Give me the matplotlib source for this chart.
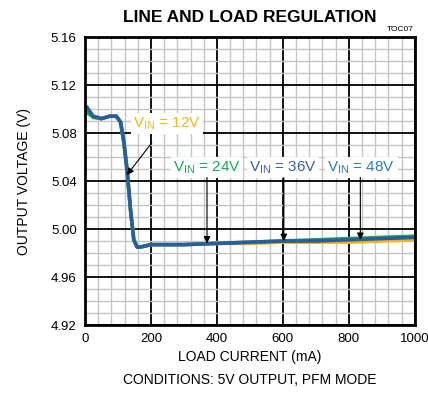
import matplotlib.pyplot as plt
from matplotlib.ticker import MultipleLocator

plt.rcParams["font.family"] = ["Liberation Sans Narrow", "Liberation Sans", "DejaVu Sans"]

# load current (mA)
load_ma = [0, 5, 12, 25, 50, 75, 95, 108, 118, 128, 138, 148, 158, 168, 185, 200, 300, 400, 500, 600, 700, 800, 900, 1000]
vout_12v = [5.097, 5.099, 5.098, 5.094, 5.092, 5.094, 5.094, 5.089, 5.072, 5.048, 5.016, 4.991, 4.985, 4.985, 4.986, 4.987, 4.987, 4.988, 4.988, 4.989, 4.989, 4.989, 4.990, 4.991]
vout_24v = [5.095, 5.097, 5.096, 5.093, 5.092, 5.094, 5.094, 5.089, 5.072, 5.048, 5.016, 4.991, 4.985, 4.985, 4.986, 4.987, 4.987, 4.988, 4.989, 4.990, 4.991, 4.992, 4.993, 4.994]
vout_36v = [5.099, 5.102, 5.099, 5.094, 5.092, 5.094, 5.094, 5.089, 5.072, 5.048, 5.016, 4.991, 4.985, 4.985, 4.986, 4.987, 4.987, 4.988, 4.989, 4.990, 4.990, 4.991, 4.992, 4.993]

labels = ["V$_{\\mathregular{IN}}$ = 12V", "V$_{\\mathregular{IN}}$ = 24V",
          "V$_{\\mathregular{IN}}$ = 36V", "V$_{\\mathregular{IN}}$ = 48V"]
label_colors = ["#F5B514", "#1BA75A", "#3A5FA5", "#2A7DC6"]

fig = plt.figure(figsize=(4.28, 3.98), dpi=100)
ax = fig.add_axes([0.1986, 0.1834, 0.7704, 0.7236])

ax.plot(load_ma, vout_12v, color="#F5B514", lw=2.6, zorder=3)
ax.plot(load_ma, vout_24v, color="#1BA75A", lw=2.6, zorder=4)
ax.plot(load_ma, vout_36v, color="#2A5C9E", lw=2.6, zorder=5)

ax.set_xlim(0, 1000)
ax.set_ylim(4.92, 5.16)
ax.xaxis.set_major_locator(MultipleLocator(200))
ax.xaxis.set_minor_locator(MultipleLocator(40))
ax.yaxis.set_major_locator(MultipleLocator(0.04))
ax.yaxis.set_minor_locator(MultipleLocator(0.01))
ax.grid(which="minor", color="#c4c4c4", lw=1.0, zorder=0)
ax.grid(which="major", color="black", lw=1.3, zorder=1)
ax.tick_params(which="both", length=0, labelsize=9.5, pad=6, colors="black")
ax.set_yticklabels([f"{v:.2f}" for v in ax.get_yticks()])
for s in ax.spines.values():
    s.set_linewidth(2)
    s.set_zorder(6)

ax.set_ylabel("OUTPUT VOLTAGE (V)", fontsize=10, labelpad=14)
ax.set_xlabel("LOAD CURRENT (mA)\nCONDITIONS: 5V OUTPUT, PFM MODE", fontsize=10,
              labelpad=3, linespacing=1.9)
fig.text(0.583, 0.957, "LINE AND LOAD REGULATION", ha="center", va="center",
         fontsize=12.5, fontweight="bold")
fig.text(0.967, 0.925, "TOC07", ha="right", va="center", fontsize=6)

box = dict(boxstyle="square,pad=0.15", fc="white", ec="none")
arrow = dict(arrowstyle="-|>", color="black", lw=0.8, mutation_scale=10)

ax.annotate(labels[0], xy=(127, 5.045), xytext=(248, 5.088), ha="center", va="center",
            color=label_colors[0], fontsize=11, bbox=box, zorder=7,
            arrowprops=dict(arrow, shrinkA=8, shrinkB=0))
for lab, col, xt, xa, ya in zip(labels[1:], label_colors[1:], [370, 600, 838],
                                 [370, 603, 835], [4.988, 4.990, 4.991]):
    ax.text(xt, 5.051, lab, ha="center", va="center", color=col, fontsize=11,
            bbox=box, zorder=7)
    ax.annotate("", xy=(xa, ya), xytext=(xa, 5.043),
                arrowprops=dict(arrow, shrinkA=0, shrinkB=0), zorder=7)

fig.savefig("out.png", dpi=100)
